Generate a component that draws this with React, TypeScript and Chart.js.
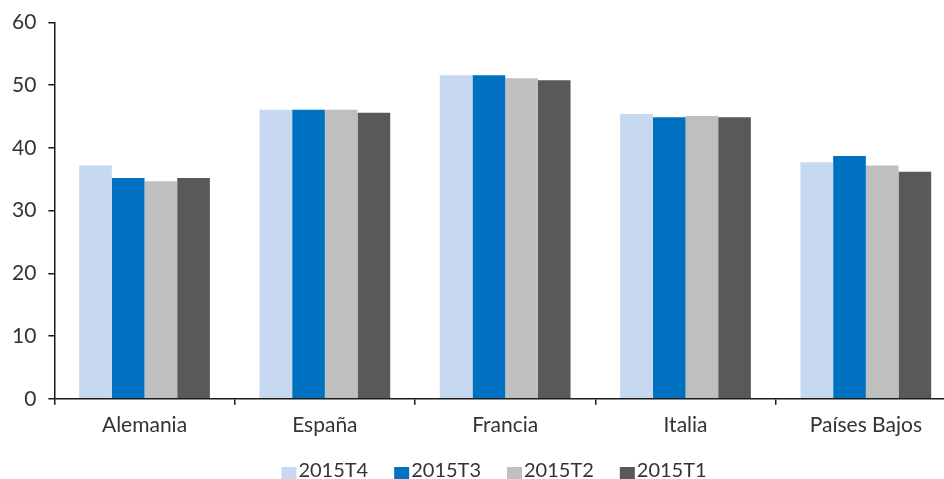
import React, { useEffect, useRef } from "react";
import { Chart, registerables } from "chart.js";

Chart.register(...registerables);

// Countries on the category axis
const countries = ["Alemania", "España", "Francia", "Italia", "Países Bajos"];

// Quarterly series, one value per country
const seriesLabels = ["2015T4", "2015T3", "2015T2", "2015T1"];
const values2015T4 = [37.2, 46.1, 51.6, 45.4, 37.7];
const values2015T3 = [35.2, 46.1, 51.6, 44.9, 38.7];
const values2015T2 = [34.7, 46.1, 51.1, 45.1, 37.2];
const values2015T1 = [35.2, 45.6, 50.8, 44.9, 36.2];
const seriesColors = ["#c6d9f0", "#0070c0", "#bfbfbf", "#595959"];

// Value axis
const yMin = 0;
const yMax = 60;
const yStep = 10;

const FONT = "Lato, 'Open Sans', sans-serif";
const TEXT = "#333333";
const AXIS = "#1a1a1a";

// Legend drawn as a single centred row: square swatch, then its label
const rowLegend = {
  id: "rowLegend",
  afterDraw(chart: any, _args: any, opts: any) {
    const { ctx } = chart;
    ctx.save();
    ctx.font = `${opts.fontSize}px ${FONT}`;
    ctx.textBaseline = "alphabetic";
    ctx.textAlign = "left";
    const items = chart.data.datasets.map((ds: any) => ({
      text: ds.label as string,
      color: ds.backgroundColor as string,
      w: ctx.measureText(ds.label).width,
    }));
    const total =
      items.reduce((s: number, it: any) => s + opts.box + opts.gap + it.w, 0) +
      opts.spacing * (items.length - 1);
    let x = opts.centerX - total / 2;
    for (const it of items) {
      ctx.fillStyle = it.color;
      ctx.fillRect(x, opts.boxTop, opts.box, opts.box);
      ctx.fillStyle = TEXT;
      ctx.fillText(it.text, x + opts.box + opts.gap, opts.baseline);
      x += opts.box + opts.gap + it.w + opts.spacing;
    }
    ctx.restore();
  },
};

export default function App() {
  const canvasRef = useRef<HTMLCanvasElement | null>(null);

  useEffect(() => {
    const canvas = canvasRef.current;
    if (!canvas) return;
    const seriesValues = [values2015T4, values2015T3, values2015T2, values2015T1];
    const chart = new Chart(canvas, {
      type: "bar",
      data: {
        labels: countries,
        datasets: seriesLabels.map((label, i) => ({
          label,
          data: seriesValues[i],
          backgroundColor: seriesColors[i],
          borderWidth: 0,
          categoryPercentage: 0.725,
          barPercentage: 1,
        })),
      },
      plugins: [rowLegend],
      options: {
        responsive: false,
        animation: false,
        layout: { padding: { top: 21, left: 0, right: 1, bottom: 39 } },
        plugins: {
          legend: { display: false },
          tooltip: { enabled: false },
          rowLegend: {
            fontSize: 20,
            box: 15,
            gap: 2,
            spacing: 26,
            centerX: 494,
            boxTop: 467,
            baseline: 477,
          },
        } as any,
        scales: {
          x: {
            grid: {
              display: true,
              offset: true,
              drawOnChartArea: false,
              drawTicks: true,
              tickLength: 6,
              color: AXIS,
              lineWidth: 1.5,
            },
            border: { display: true, color: AXIS, width: 1.5 },
            ticks: {
              color: TEXT,
              font: { family: FONT, size: 21 },
              padding: 8,
              maxRotation: 0,
            },
          },
          y: {
            min: yMin,
            max: yMax,
            grid: {
              display: true,
              drawOnChartArea: false,
              drawTicks: true,
              tickLength: 6,
              color: AXIS,
              lineWidth: 1.5,
            },
            border: { display: true, color: AXIS, width: 1.5 },
            ticks: {
              stepSize: yStep,
              color: TEXT,
              font: { family: FONT, size: 21, lineHeight: 1 },
              padding: 12,
            },
          },
        },
      },
    });
    return () => chart.destroy();
  }, []);

  return (
    <div
      style={{
        position: "fixed",
        left: 0,
        top: 0,
        width: 944,
        height: 479,
        overflow: "hidden",
        background: "#ffffff",
      }}
    >
      <canvas ref={canvasRef} width={957} height={485} style={{ display: "block" }} />
    </div>
  );
}
